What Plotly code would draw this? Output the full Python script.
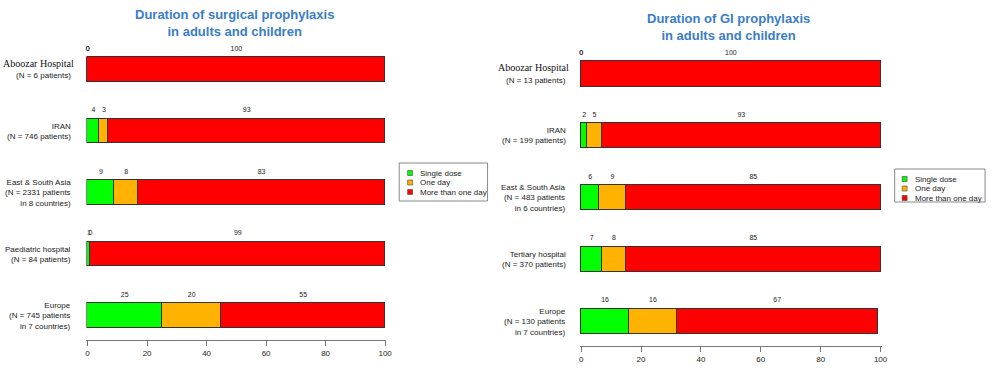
import numpy as np
import plotly.graph_objects as go

# ---------------- data ----------------
surg_names = ["Aboozar Hospital", "IRAN", "East & South Asia", "Paediatric hospital", "Europe"]
surg_details = ["(N = 6 patients)", "(N = 746 patients)", "(N = 2331 patients<br>in 8 countries)",
                "(N = 84 patients)", "(N = 745 patients<br>in 7 countries)"]
surg_single = [0, 4, 9, 1, 25]
surg_oneday = [0, 3, 8, 0, 20]
surg_more = [100, 93, 83, 99, 55]

gi_names = ["Aboozar Hospital", "IRAN", "East & South Asia", "Tertiary hospital", "Europe"]
gi_details = ["(N = 13 patients)", "(N = 199 patients)", "(N = 483 patients<br>in 6 countries)",
              "(N = 370 patients)", "(N = 130 patients<br>in 7 countries)"]
gi_single = [0, 2, 6, 7, 16]
gi_oneday = [0, 5, 9, 8, 16]
gi_more = [100, 93, 85, 85, 67]

series_names = ["Single dose", "One day", "More than one day"]
series_colors = ["#00FF00", "#FFB300", "#FF0000"]
x_ticks = [0, 20, 40, 60, 80, 100]

titles = ["<b>Duration of surgical prophylaxis<br>in adults and children</b>",
          "<b>Duration of GI prophylaxis<br>in adults and children</b>"]

W, H = 1000, 374
def xp(px):
    return px / W
def yp(py):
    return 1 - py / H

fig = go.Figure()
TXT = "#222222"
SANS = "Liberation Sans, Arial, sans-serif"
SERIF = "Liberation Serif, Times New Roman, serif"

panels = [
    dict(names=surg_names, details=surg_details, vals=[surg_single, surg_oneday, surg_more],
         xa="x", ya="y", label_x=73, text_off=0.33, two_line=(-0.09, 0.09)),
    dict(names=gi_names, details=gi_details, vals=[gi_single, gi_oneday, gi_more],
         xa="x2", ya="y2", label_x=571, text_off=0.34, two_line=(-0.11, 0.10)),
]

annotations = []
for p in panels:
    idx = np.arange(len(p["names"]))
    start = np.zeros(len(idx))
    for s, (vals, name, col) in enumerate(zip(p["vals"], series_names, series_colors)):
        v = np.array(vals, dtype=float)
        fig.add_trace(go.Bar(
            x=v, y=idx, orientation="h", name=name, width=0.405,
            marker=dict(color=col, line=dict(color="#333333", width=1)),
            xaxis=p["xa"], yaxis=p["ya"], showlegend=False, hoverinfo="skip"))
        fig.add_trace(go.Scatter(
            x=start + v / 2, y=idx - p["text_off"], mode="text",
            text=[str(int(a)) for a in vals], textposition="middle center",
            textfont=dict(size=7, color=TXT, family=SANS),
            xaxis=p["xa"], yaxis=p["ya"], showlegend=False, hoverinfo="skip", cliponaxis=False))
        start = start + v
    yref = p["ya"]
    for i, (nm, det) in enumerate(zip(p["names"], p["details"])):
        if nm == "Aboozar Hospital":
            annotations.append(dict(
                x=xp(p["label_x"] + 3), xref="paper", xanchor="right", align="right",
                y=i + p["two_line"][0], yref=yref, yanchor="middle", text=nm, showarrow=False,
                font=dict(size=10, color="#111111", family=SERIF)))
            annotations.append(dict(
                x=xp(p["label_x"]), xref="paper", xanchor="right", align="right",
                y=i + p["two_line"][1], yref=yref, yanchor="middle", text=det, showarrow=False,
                font=dict(size=8, color=TXT, family=SANS)))
        else:
            annotations.append(dict(
                x=xp(p["label_x"]), xref="paper", xanchor="right", align="right",
                y=i, yref=yref, yanchor="middle", text=nm + "<br>" + det, showarrow=False,
                font=dict(size=8, color=TXT, family=SANS)))

# titles
for t, cx, cy in zip(titles, [235, 733], [23, 27]):
    annotations.append(dict(x=xp(cx), y=yp(cy), xref="paper", yref="paper",
                            xanchor="center", yanchor="middle", text=t, showarrow=False,
                            font=dict(size=13, color="#3A7CC8", family=SANS)))

# legends (drawn manually to match compact R-style legend boxes)
shapes = []
legend_boxes = [dict(x0=401, x1=490, y0=163, y1=201, sq=412, tx=420, rows=[173, 182.5, 192]),
                dict(x0=900, x1=991, y0=169, y1=202, sq=910, tx=918, rows=[179, 188.5, 198])]
for lb in legend_boxes:
    shapes.append(dict(type="rect", xref="paper", yref="paper",
                       x0=xp(lb["x0"]), x1=xp(lb["x1"]), y0=yp(lb["y1"]), y1=yp(lb["y0"]),
                       line=dict(color="#888888", width=1), fillcolor="white", layer="below"))
    for name, col, ry in zip(series_names, series_colors, lb["rows"]):
        shapes.append(dict(type="rect", xref="paper", yref="paper",
                           x0=xp(lb["sq"] - 2.5), x1=xp(lb["sq"] + 2.5),
                           y0=yp(ry + 2.5), y1=yp(ry - 2.5),
                           line=dict(color="#444444", width=0.6), fillcolor=col))
        annotations.append(dict(x=xp(lb["tx"]), y=yp(ry), xref="paper", yref="paper",
                                xanchor="left", yanchor="middle", text=name, showarrow=False,
                                font=dict(size=8, color=TXT, family=SANS)))

axis_common = dict(range=[-0.4, 100.4], showline=True, linecolor="#777777", linewidth=1,
                   ticks="outside", ticklen=5, tickcolor="#777777", tickwidth=1,
                   tickvals=x_ticks, ticktext=[str(v) for v in x_ticks],
                   tickfont=dict(size=8, color=TXT, family=SANS),
                   showgrid=False, zeroline=False, fixedrange=True)

fig.update_layout(
    autosize=True, barmode="stack", bargap=0,
    margin=dict(l=0, r=0, t=0, b=0),
    paper_bgcolor="white", plot_bgcolor="white",
    showlegend=False,
    xaxis=dict(domain=[xp(86), xp(388)], anchor="y", **axis_common),
    yaxis=dict(domain=[yp(340), yp(40)], range=[(340 - 69.5) / 61.5, (40 - 69.5) / 61.5],
               visible=False, anchor="x"),
    xaxis2=dict(domain=[xp(583), xp(887)], anchor="y2", **axis_common),
    yaxis2=dict(domain=[yp(346), yp(40)], range=[(346 - 74) / 61.9, (40 - 74) / 61.9],
                visible=False, anchor="x2"),
    annotations=annotations, shapes=shapes,
)

fig.write_html(
    "out.html",
    config={"displayModeBar": False, "responsive": True},
    default_width="100vw", default_height="100vh",
    post_script=("document.body.style.margin='0';document.body.style.padding='0';"
                 "document.body.style.overflow='hidden';"
                 "document.documentElement.style.overflow='hidden';"
                 "Plotly.Plots.resize(document.getElementById('{plot_id}'));"),
)
